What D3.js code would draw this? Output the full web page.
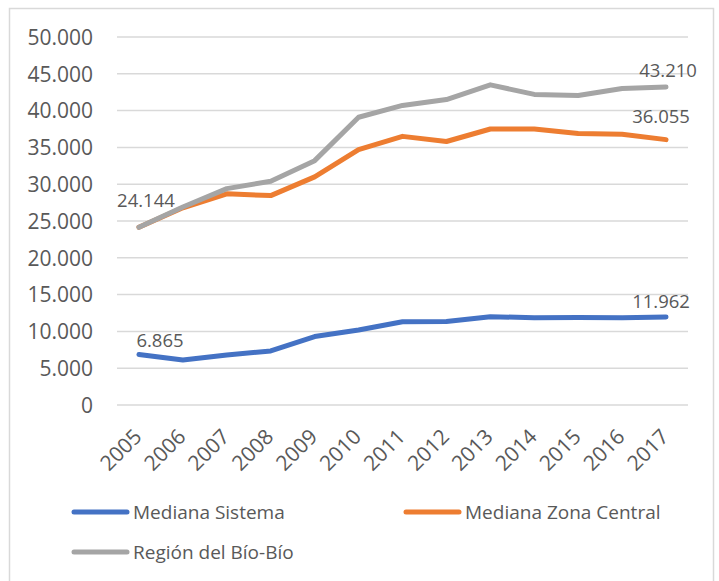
<!DOCTYPE html>
<html>
<head>
<meta charset="utf-8">
<script src="https://cdn.jsdelivr.net/npm/d3@7"></script>
<style>
  body { margin: 0; background: #fff; }
  text { font-family: "Open Sans", sans-serif; fill: #595959; }
</style>
</head>
<body>
<svg id="chart" width="719" height="581"></svg>
<script>
const years = [2005, 2006, 2007, 2008, 2009, 2010, 2011, 2012, 2013, 2014, 2015, 2016, 2017];
const sistema = [6865, 6100, 6800, 7350, 9300, 10200, 11300, 11350, 12000, 11850, 11900, 11850, 11962];
const zonaCentral = [24140, 26800, 28700, 28450, 31000, 34700, 36500, 35800, 37500, 37500, 36900, 36800, 36055];
const bioBio = [24144, 26900, 29400, 30400, 33200, 39100, 40700, 41500, 43500, 42200, 42050, 43000, 43210];
const yTicks = [0, 5000, 10000, 15000, 20000, 25000, 30000, 35000, 40000, 45000, 50000];

const series = [
    { name: "Mediana Sistema", values: sistema, color: "#4472C4" },
    { name: "Mediana Zona Central", values: zonaCentral, color: "#ED7D31" },
    { name: "Región del Bío-Bío", values: bioBio, color: "#A5A5A5" }
];

// labels that were placed by hand in the original, offsets in px from the point
const labels = [
    { s: 0, i: 0, dx: 21, dy: -7 },
    { s: 0, i: 12, dx: -5, dy: -9 },
    { s: 1, i: 12, dx: -5, dy: -17 },
    { s: 2, i: 0, dx: 7, dy: -20 },
    { s: 2, i: 12, dx: 2, dy: -10 }
];

const locale = d3.formatLocale({ decimal: ",", thousands: ".", grouping: [3], currency: ["", ""] });
const fmt = locale.format(",d");

const svg = d3.select("#chart");

svg.append("rect")
    .attr("x", 9.5).attr("y", 8.5)
    .attr("width", 704).attr("height", 590)
    .attr("fill", "none")
    .attr("stroke", "#d9d9d9")
    .attr("stroke-width", 1.5);

const x = d3.scalePoint().domain(years).range([117, 688]).padding(0.5);
const y = d3.scaleLinear().domain([0, 50000]).range([405, 37]);

// gridlines
svg.append("g")
    .selectAll("line")
    .data(yTicks)
    .join("line")
    .attr("x1", 117).attr("x2", 688)
    .attr("y1", d => y(d)).attr("y2", d => y(d))
    .attr("stroke", "#d9d9d9")
    .attr("stroke-width", 1.5);

// y axis labels
const yAxis = svg.append("g")
    .attr("transform", "translate(93,0)")
    .call(d3.axisLeft(y).tickValues(yTicks).tickFormat(fmt).tickSize(0).tickPadding(0));
yAxis.select(".domain").remove();
yAxis.selectAll("text")
    .attr("font-size", 21)
    .attr("font-family", null)
    .attr("fill", null)
    .attr("dy", "0.35em");

// x axis labels
svg.append("g")
    .selectAll("text")
    .data(years)
    .join("text")
    .attr("transform", d => `translate(${x(d) + 4},438) rotate(-45)`)
    .attr("text-anchor", "end")
    .attr("font-size", 21)
    .text(d => d);

const line = d3.line()
    .x((d, i) => x(years[i]))
    .y(d => y(d));

svg.append("g")
    .selectAll("path")
    .data(series)
    .join("path")
    .attr("fill", "none")
    .attr("stroke", d => d.color)
    .attr("stroke-width", 5)
    .attr("stroke-linejoin", "round")
    .attr("stroke-linecap", "round")
    .attr("d", d => line(d.values));

svg.append("g")
    .selectAll("text")
    .data(labels)
    .join("text")
    .attr("x", d => x(years[d.i]) + d.dx)
    .attr("y", d => y(series[d.s].values[d.i]) + d.dy)
    .attr("text-anchor", "middle")
    .attr("font-size", 18.5)
    .text(d => fmt(series[d.s].values[d.i]));

// legend
const legendPos = [[74, 512], [406, 512], [74, 552]];
const legend = svg.append("g")
    .selectAll("g")
    .data(series)
    .join("g")
    .attr("transform", (d, i) => `translate(${legendPos[i][0]},${legendPos[i][1]})`);

legend.append("line")
    .attr("x1", 0).attr("x2", 53)
    .attr("stroke", d => d.color)
    .attr("stroke-width", 5)
    .attr("stroke-linecap", "round");

legend.append("text")
    .attr("x", 59)
    .attr("dy", "0.35em")
    .attr("font-size", 19)
    .text(d => d.name);
</script>
</body>
</html>
